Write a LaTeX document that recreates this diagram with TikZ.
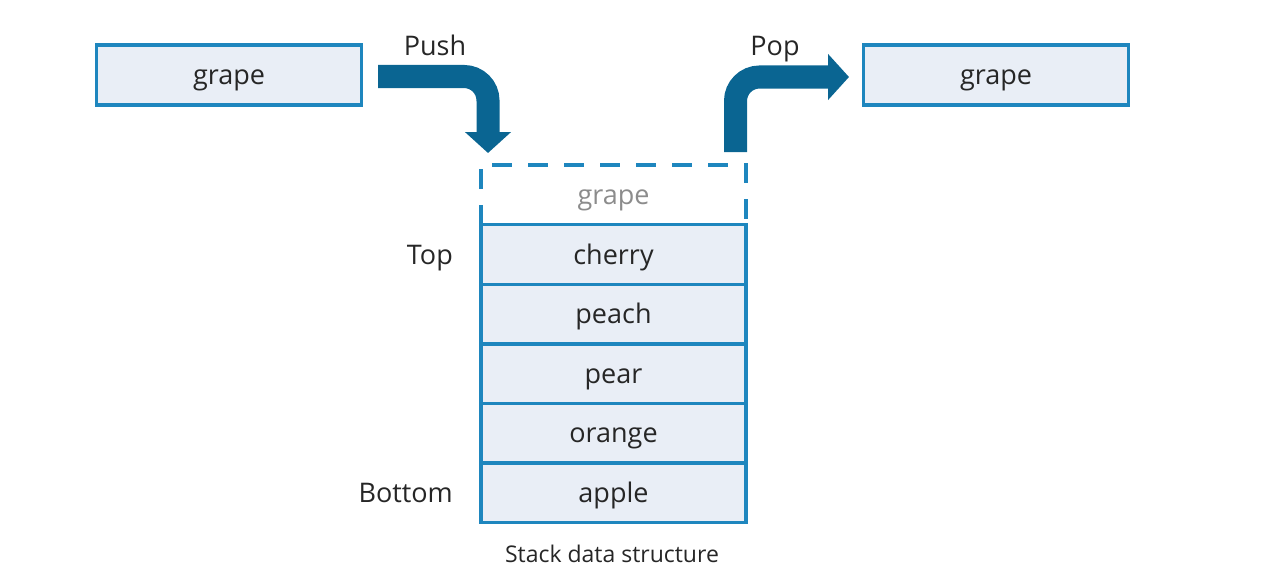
\documentclass[tikz,border=0pt]{standalone}
\usepackage{fontspec}
\setmainfont{Open Sans}
\usetikzlibrary{arrows.meta}

\definecolor{boxblue}{RGB}{30,134,190}
\definecolor{arrowblue}{RGB}{10,101,146}
\definecolor{cellfill}{RGB}{233,238,246}
\definecolor{inktext}{RGB}{38,38,38}
\definecolor{ghosttext}{RGB}{140,140,140}

\tikzset{
  cell/.style={draw=boxblue, fill=cellfill, line width=3.5pt, minimum width=265pt, minimum height=59.6pt, text height=19pt, text depth=0pt, text=inktext},
  lbl/.style={text=inktext, text height=19pt, text depth=0pt, inner sep=0pt},
  bigarrow/.style={draw=arrowblue, line width=23pt, rounded corners=24pt, -{Triangle[width=45pt,length=21pt]}},
  slotline/.style={draw=boxblue, line width=3.5pt, dash pattern=on 20pt off 16pt}
}

\begin{document}
\begin{tikzpicture}[x=1pt,y=1pt,yscale=-1,xscale=1,font=\fontsize{27}{32}\selectfont]
\useasboundingbox (0,0) rectangle (1261,586);

% Incoming and outgoing items
\node[cell, minimum height=60pt] (grapein) at (229,75) {grape};
\node[cell, minimum height=60pt] (grapeout) at (996,75) {grape};

% Stack cells
\node[cell] (cherry) at (613.5,254.5) {cherry};
\node[cell] (peach) at (613.5,314.1) {peach};
\node[cell] (pear) at (613.5,373.7) {pear};
\node[cell] (orange) at (613.5,433.3) {orange};
\node[cell] (apple) at (613.5,492.9) {apple};

% Free slot on top of the stack
\node[minimum width=265pt, minimum height=60pt, text height=19pt, text depth=0pt, text=ghosttext] (slot) at (613.5,195) {grape};
\draw[slotline] (slot.south west) |- (slot.north east) -- (slot.south east);

% Push and Pop arrows
\coordinate (pushA) at (378,76.5);
\coordinate (pushB) at (488,153);
\draw[bigarrow] (pushA) -| (pushB);
\coordinate (popA) at (735.5,152);
\coordinate (popB) at (849,77);
\draw[bigarrow] (popA) |- (popB);

% Text Node
\node[lbl] (push) at (435,46) {Push};
\node[lbl] (pop) at (775,46) {Pop};
\node[lbl, anchor=east] (top) at (453,254.5) {Top};
\node[lbl, anchor=east] (bottom) at (453,492.9) {Bottom};
\node[lbl, font=\fontsize{23}{28}\selectfont] (caption) at (612,553) {Stack data structure};

\end{tikzpicture}
\end{document}
